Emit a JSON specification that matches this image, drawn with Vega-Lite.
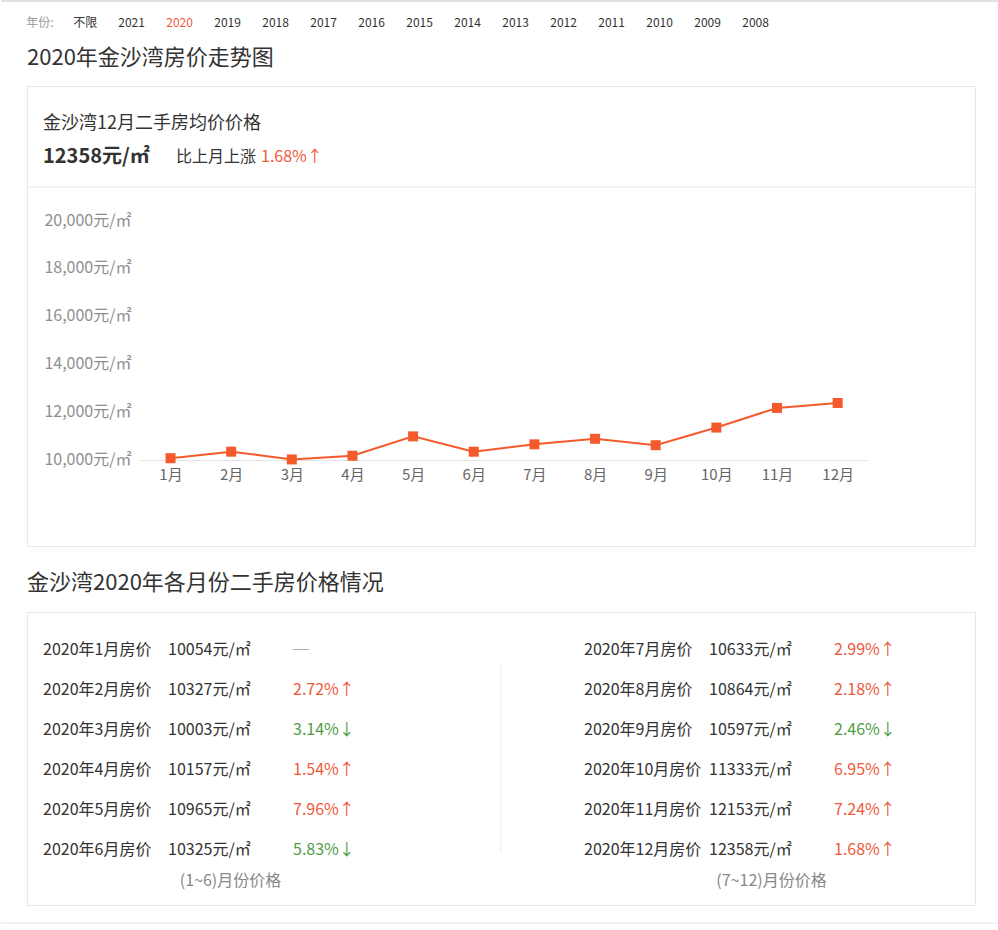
{
  "$schema": "https://vega.github.io/schema/vega-lite/v6.json",
  "background": "#ffffff",
  "padding": {"left": 0, "right": 0, "top": 0, "bottom": 5},
  "config": {
    "font": "Noto Sans CJK SC",
    "view": {"stroke": null},
    "title": {"font": "Noto Sans CJK SC"},
    "axis": {"labelFont": "Noto Sans CJK SC"}
  },
  "datasets": {
    "months": [
      {"m": 1, "price": 10054, "h": 0, "r": 1, "label": "2020年1月房价", "ptxt": "10054元/㎡", "chg": "─", "dir": "none"},
      {"m": 2, "price": 10327, "h": 0, "r": 2, "label": "2020年2月房价", "ptxt": "10327元/㎡", "chg": "2.72%↑", "dir": "up"},
      {"m": 3, "price": 10003, "h": 0, "r": 3, "label": "2020年3月房价", "ptxt": "10003元/㎡", "chg": "3.14%↓", "dir": "down"},
      {"m": 4, "price": 10157, "h": 0, "r": 4, "label": "2020年4月房价", "ptxt": "10157元/㎡", "chg": "1.54%↑", "dir": "up"},
      {"m": 5, "price": 10965, "h": 0, "r": 5, "label": "2020年5月房价", "ptxt": "10965元/㎡", "chg": "7.96%↑", "dir": "up"},
      {"m": 6, "price": 10325, "h": 0, "r": 6, "label": "2020年6月房价", "ptxt": "10325元/㎡", "chg": "5.83%↓", "dir": "down"},
      {"m": 7, "price": 10633, "h": 1, "r": 1, "label": "2020年7月房价", "ptxt": "10633元/㎡", "chg": "2.99%↑", "dir": "up"},
      {"m": 8, "price": 10864, "h": 1, "r": 2, "label": "2020年8月房价", "ptxt": "10864元/㎡", "chg": "2.18%↑", "dir": "up"},
      {"m": 9, "price": 10597, "h": 1, "r": 3, "label": "2020年9月房价", "ptxt": "10597元/㎡", "chg": "2.46%↓", "dir": "down"},
      {"m": 10, "price": 11333, "h": 1, "r": 4, "label": "2020年10月房价", "ptxt": "11333元/㎡", "chg": "6.95%↑", "dir": "up"},
      {"m": 11, "price": 12153, "h": 1, "r": 5, "label": "2020年11月房价", "ptxt": "12153元/㎡", "chg": "7.24%↑", "dir": "up"},
      {"m": 12, "price": 12358, "h": 1, "r": 6, "label": "2020年12月房价", "ptxt": "12358元/㎡", "chg": "1.68%↑", "dir": "up"}
    ]
  },
  "spacing": 24,
  "vconcat": [
    {
      "spacing": 0,
      "vconcat": [
        {
          "width": 948,
          "height": 46,
          "data": {"values": [
            {"i": 0, "t": "年份:"}, {"i": 1, "t": "不限"}, {"i": 2, "t": "2021"}, {"i": 3, "t": "2020"},
            {"i": 4, "t": "2019"}, {"i": 5, "t": "2018"}, {"i": 6, "t": "2017"}, {"i": 7, "t": "2016"},
            {"i": 8, "t": "2015"}, {"i": 9, "t": "2014"}, {"i": 10, "t": "2013"}, {"i": 11, "t": "2012"},
            {"i": 12, "t": "2011"}, {"i": 13, "t": "2010"}, {"i": 14, "t": "2009"}, {"i": 15, "t": "2008"}
          ]},
          "layer": [
            {"data": {"values": [{}]},
             "mark": {"type": "rule", "color": "#d9d9d9", "strokeWidth": 1.5},
             "encoding": {
               "x": {"datum": -0.44375, "type": "quantitative", "scale": {"domain": [2, 15], "range": [91.3, 715.3]}, "axis": null},
               "x2": {"datum": 20.348},
               "y": {"datum": 0, "type": "quantitative", "scale": {"domain": [0, 1], "range": [1, 46]}, "axis": null}}},
            {"transform": [{"filter": "datum.i == 0"}], "mark": {"type": "text", "align": "left", "baseline": "middle", "fontSize": 12, "color": "#999999", "dx": 4, "dy": -0.5},
             "encoding": {"x": {"field": "i", "type": "quantitative"}, "text": {"field": "t"}}},
            {"transform": [{"filter": "datum.i == 1"}], "mark": {"type": "text", "align": "left", "baseline": "middle", "fontSize": 12, "color": "#333333", "dx": 3, "dy": -0.5},
             "encoding": {"x": {"field": "i", "type": "quantitative"}, "text": {"field": "t"}}},
            {"transform": [{"filter": "datum.i >= 2"}], "mark": {"type": "text", "align": "left", "baseline": "middle", "fontSize": 12, "dy": -0.5},
             "encoding": {"x": {"field": "i", "type": "quantitative"}, "text": {"field": "t"},
                          "color": {"condition": {"test": "datum.t == '2020'", "value": "#ee5a3c"}, "value": "#333333"}}}
          ]
        },
        {
          "width": 948,
          "height": 460,
          "view": {"stroke": "#e8e8e8"},
          "title": {"text": "2020年金沙湾房价走势图", "anchor": "start", "frame": "group", "fontSize": 22, "fontWeight": "normal", "color": "#333333", "offset": 16},
          "resolve": {"scale": {"x": "independent", "y": "independent"}, "axis": {"x": "independent", "y": "independent"}},
          "layer": [
            {
              "data": {"values": [
                {"k": "head", "line": 1, "col": 0, "t": "金沙湾12月二手房均价价格"},
                {"k": "price", "line": 2, "col": 0, "t": "12358元/㎡"},
                {"k": "label", "line": 2, "col": 1, "t": "比上月上涨"},
                {"k": "chg", "line": 2, "col": 1, "t": "1.68%↑"}
              ]},
              "layer": [
                {"transform": [{"filter": "datum.k == 'head'"}],
                 "mark": {"type": "text", "align": "left", "baseline": "middle", "fontSize": 18, "color": "#333333"},
                 "encoding": {
                   "x": {"field": "col", "type": "quantitative", "scale": {"domain": [0, 1], "range": [16, 149]}, "axis": null},
                   "y": {"field": "line", "type": "quantitative", "scale": {"domain": [1, 2], "range": [37.5, 71]}, "axis": null},
                   "text": {"field": "t"}}},
                {"transform": [{"filter": "datum.k == 'price'"}],
                 "mark": {"type": "text", "align": "left", "baseline": "middle", "fontSize": 20, "fontWeight": "bold", "color": "#333333"},
                 "encoding": {"x": {"field": "col", "type": "quantitative"}, "y": {"field": "line", "type": "quantitative"}, "text": {"field": "t"}}},
                {"transform": [{"filter": "datum.k == 'label'"}],
                 "mark": {"type": "text", "align": "left", "baseline": "middle", "fontSize": 16, "color": "#333333"},
                 "encoding": {"x": {"field": "col", "type": "quantitative"}, "y": {"field": "line", "type": "quantitative"}, "text": {"field": "t"}}},
                {"transform": [{"filter": "datum.k == 'chg'"}],
                 "mark": {"type": "text", "align": "left", "baseline": "middle", "fontSize": 16, "color": "#ee5a3c", "dx": 85},
                 "encoding": {"x": {"field": "col", "type": "quantitative"}, "y": {"field": "line", "type": "quantitative"}, "text": {"field": "t"}}},
                {"transform": [{"filter": "datum.k == 'head'"}],
                 "mark": {"type": "rule", "color": "#e8e8e8", "strokeWidth": 1},
                 "encoding": {"y": {"datum": 2.8955, "type": "quantitative"}}}
              ]
            },
            {
              "data": {"name": "months"},
              "encoding": {
                "x": {"field": "m", "type": "quantitative",
                      "scale": {"domain": [0.5, 12.5], "range": [113.2, 841]},
                      "axis": {"orient": "bottom", "offset": -86, "values": [1,2,3,4,5,6,7,8,9,10,11,12],
                               "labelExpr": "datum.value + '月'", "labelFontSize": 15, "labelColor": "#666666",
                               "labelPadding": 7, "tickSize": 0, "ticks": false, "grid": false, "domain": true,
                               "domainColor": "#e4e4e4", "title": null, "labelFlush": false, "labelOverlap": false}},
                "y": {"field": "price", "type": "quantitative",
                      "scale": {"domain": [10000, 20000], "range": [373.5, 134], "zero": false},
                      "axis": {"orient": "left", "offset": -110, "values": [10000, 12000, 14000, 16000, 18000, 20000],
                               "labelExpr": "format(datum.value, ',') + '元/㎡'", "labelFontSize": 16, "labelColor": "#8f8f8f",
                               "labelPadding": 6, "tickSize": 0, "ticks": false, "domain": false, "grid": false,
                               "title": null, "labelOverlap": false}}
              },
              "layer": [
                {"mark": {"type": "line", "color": "#f55a2c", "strokeWidth": 2}},
                {"mark": {"type": "point", "shape": "square", "filled": true, "size": 100, "color": "#f55a2c", "opacity": 1}}
              ]
            }
          ]
        }
      ]
    },
    {
      "width": 948,
      "height": 293,
      "view": {"stroke": "#e8e8e8"},
      "title": {"text": "金沙湾2020年各月份二手房价格情况", "anchor": "start", "frame": "group", "fontSize": 22, "fontWeight": "normal", "color": "#333333", "offset": 17},
      "layer": [
        {
          "data": {"name": "months"},
          "mark": {"type": "text", "align": "left", "baseline": "middle", "fontSize": 16, "color": "#333333"},
          "encoding": {
            "x": {"field": "h", "type": "quantitative", "scale": {"domain": [0, 1], "range": [16, 557]}, "axis": null},
            "y": {"field": "r", "type": "quantitative", "scale": {"domain": [1, 6], "range": [38, 238]}, "axis": null},
            "text": {"field": "label"}
          }
        },
        {
          "data": {"name": "months"},
          "mark": {"type": "text", "align": "left", "baseline": "middle", "fontSize": 16, "color": "#333333", "dx": 125},
          "encoding": {
            "x": {"field": "h", "type": "quantitative"},
            "y": {"field": "r", "type": "quantitative"},
            "text": {"field": "ptxt"}
          }
        },
        {
          "data": {"name": "months"},
          "mark": {"type": "text", "align": "left", "baseline": "middle", "fontSize": 16, "dx": 250},
          "encoding": {
            "x": {"field": "h", "type": "quantitative"},
            "y": {"field": "r", "type": "quantitative"},
            "text": {"field": "chg"},
            "color": {"field": "dir", "type": "nominal", "scale": {"domain": ["up", "down", "none"], "range": ["#ee5a3c", "#4e9c46", "#9a9a9a"]}, "legend": null}
          }
        },
        {
          "data": {"values": [{}]},
          "mark": {"type": "rule", "color": "#ececec", "strokeWidth": 1},
          "encoding": {
            "y": {"datum": 1.35, "type": "quantitative"},
            "y2": {"datum": 6.05}
          }
        },
        {
          "data": {"values": [{}]},
          "mark": {"type": "rule", "color": "#e6e6e6", "strokeWidth": 1},
          "encoding": {
            "x": {"datum": -0.07763, "type": "quantitative"},
            "x2": {"datum": 1.7671},
            "y": {"datum": 7.825, "type": "quantitative"}
          }
        },
        {
          "data": {"values": [{"h": 0, "t": "(1~6)月份价格"}, {"h": 1, "t": "(7~12)月份价格"}]},
          "mark": {"type": "text", "align": "center", "baseline": "middle", "fontSize": 16, "color": "#888888", "dx": 187.5},
          "encoding": {
            "x": {"field": "h", "type": "quantitative"},
            "y": {"datum": 6.77, "type": "quantitative"},
            "text": {"field": "t"}
          }
        }
      ]
    }
  ]
}
